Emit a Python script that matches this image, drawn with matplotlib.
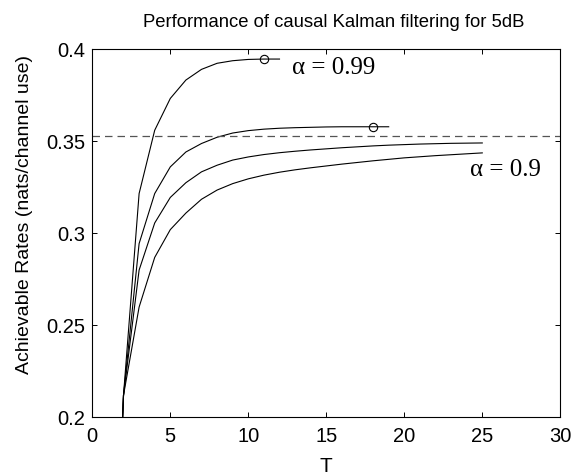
import matplotlib
matplotlib.use("Agg")
import matplotlib.pyplot as plt

# Data
T1 = list(range(1, 13))
rate1 = [0.0, 0.212, 0.3216, 0.356, 0.3733, 0.3833, 0.3891, 0.3924, 0.3938, 0.3945, 0.3947, 0.3947]

T2 = list(range(1, 20))
rate2 = [0.0, 0.212, 0.2944, 0.3216, 0.3361, 0.3442, 0.3488, 0.3522, 0.3545, 0.3558, 0.3566,
         0.3571, 0.3574, 0.3576, 0.3578, 0.3579, 0.3579, 0.3579, 0.3579]

T3 = list(range(1, 26))
rate3 = [0.0, 0.212, 0.2800, 0.3056, 0.3195, 0.3275, 0.3334, 0.3370, 0.3398, 0.3415, 0.3428,
         0.3438, 0.3446, 0.3453, 0.3459, 0.3465, 0.3470, 0.3475, 0.3479, 0.3482, 0.3485,
         0.3487, 0.3489, 0.3490, 0.3491]

T4 = list(range(1, 26))
rate4 = [0.0, 0.212, 0.2599, 0.2869, 0.3020, 0.3110, 0.3185, 0.3235, 0.3270, 0.3296, 0.3316,
         0.3332, 0.3345, 0.3356, 0.3366, 0.3376, 0.3385, 0.3394, 0.3402, 0.3410, 0.3416,
         0.3422, 0.3427, 0.3432, 0.3437]

opt_T = [11, 18]
opt_rate = [0.3947, 0.3579]

capacity = 0.353

labels = ["α = 0.99", "α = 0.9"]
label_pos = [(12.8, 0.3897), (24.2, 0.3343)]

xticks = [0, 5, 10, 15, 20, 25, 30]
yticks = [0.2, 0.25, 0.3, 0.35, 0.4]
yticklabels = ["0.2", "0.25", "0.3", "0.35", "0.4"]

plt.rcParams['font.family'] = ['Liberation Sans', 'DejaVu Sans']

fig = plt.figure(figsize=(5.73, 4.75), dpi=100)
ax = fig.add_axes([0.1611, 0.1215, 0.9778 - 0.1611, 0.8962 - 0.1215])

for T, r in [(T1, rate1), (T2, rate2), (T3, rate3), (T4, rate4)]:
    ax.plot(T, r, color='black', linewidth=0.8)

ax.plot(opt_T, opt_rate, linestyle='none', marker='o', markersize=6,
        markerfacecolor='none', markeredgecolor='black', markeredgewidth=0.8)

ax.axhline(capacity, color='#555555', linestyle=(0, (6, 4)), linewidth=0.9)

for lab, (x, y) in zip(labels, label_pos):
    ax.text(x, y, lab, fontsize=18, family=['Liberation Serif', 'DejaVu Serif'],
            ha='left', va='center')

ax.set_xlim(0, 30)
ax.set_ylim(0.2, 0.4)
ax.set_xticks(xticks)
ax.set_yticks(yticks)
ax.set_yticklabels(yticklabels)
ax.tick_params(direction='in', top=True, right=True, length=3.5, width=0.7,
               labelsize=14.5)
ax.tick_params(axis='x', pad=7)
ax.tick_params(axis='y', pad=5)
for s in ax.spines.values():
    s.set_linewidth(0.8)

ax.set_title("Performance of causal Kalman filtering for 5dB", fontsize=13.3, pad=16, x=0.5165)
ax.set_xlabel("T", fontsize=15)
ax.set_ylabel("Achievable Rates (nats/channel use)", fontsize=14)
ax.yaxis.set_label_coords(-0.127, 0.55)
ax.xaxis.set_label_coords(0.5, -0.107)

fig.savefig("out.png", dpi=100)
